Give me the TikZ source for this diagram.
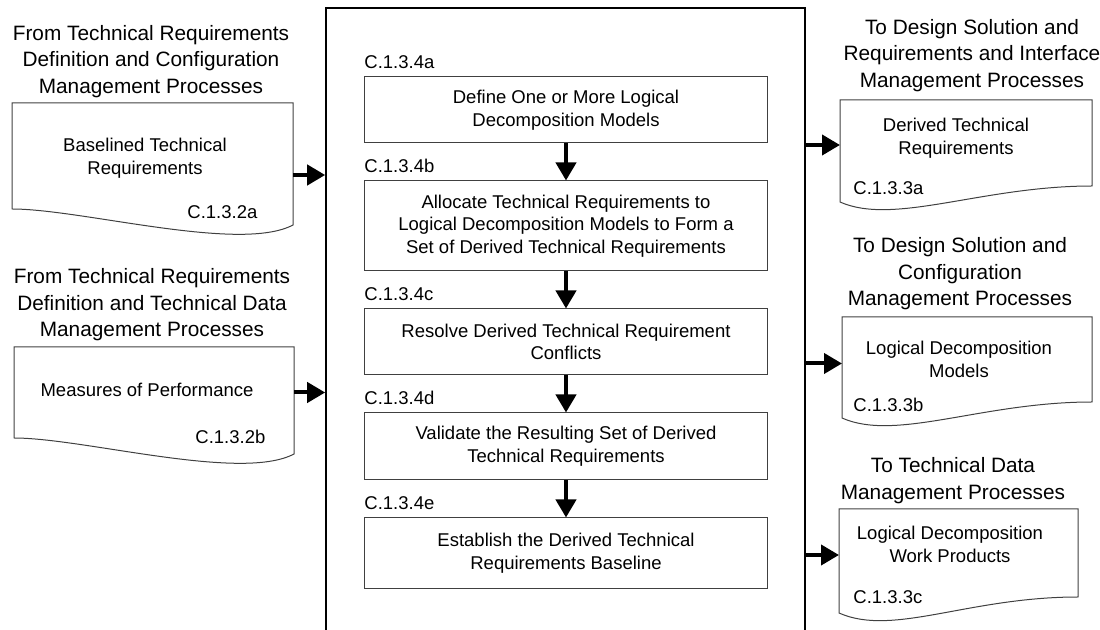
\documentclass[tikz,border=0pt]{standalone}
\usepackage{fontspec}
\setmainfont{Liberation Sans}
\usepackage{tikz}
\usetikzlibrary{arrows.meta,positioning,calc}

\tikzset{
  hdr/.style={align=center,inner sep=0pt,font=\fontsize{10.4}{13.3}\selectfont},
  stepbox/.style={draw=black!75,line width=0.5pt,minimum width=201.5pt,
    align=center,inner sep=2pt,font=\fontsize{9.25}{11.3}\selectfont},
  docbox/.style={inner sep=0pt,outer sep=0pt},
  doctext/.style={align=center,inner sep=0pt,font=\fontsize{9.25}{11.4}\selectfont},
  code/.style={anchor=base west,inner sep=0pt,font=\fontsize{9.25}{11.4}\selectfont},
  frame/.style={draw,line width=0.8pt,minimum width=239.5pt,minimum height=326pt,inner sep=0pt},
  flow/.style={line width=2pt,-{Triangle[length=9pt,width=10pt]}},
  docline/.style={draw=black!75,line width=0.5pt}
}
\newcommand{\docin}[1]{\draw[docline] (#1.south west) -- (#1.north west) -- (#1.north east)
  -- ([yshift=-8pt]#1.south east) .. controls +(-53,28) and +(70,0) .. (#1.south west) -- cycle;}
\newcommand{\docout}[1]{\draw[docline] (#1.south west) -- (#1.north west) -- (#1.north east)
  -- ([yshift=8pt]#1.south east) .. controls +(-110,0) and +(54,24) .. (#1.south west) -- cycle;}

\begin{document}
\begin{tikzpicture}[x=0.5pt,y=-0.5pt]
\useasboundingbox (0,0) rectangle (1100,630);
\node[frame] (main) at (565.5,334) {};

\node[hdr] (hA) at (151,61.5) {From Technical Requirements\\Definition and Configuration\\Management Processes};
\node[hdr] (hB) at (152,305) {From Technical Requirements\\Definition and Technical Data\\Management Processes};
\node[hdr] (hC) at (972,55.5) {To Design Solution and\\Requirements and Interface\\Management Processes};
\node[hdr] (hD) at (960,274) {To Design Solution and\\Configuration\\Management Processes};
\node[hdr] (hE) at (953,480.5) {To Technical Data\\Management Processes};

\node[docbox,minimum width=140.5pt,minimum height=53pt] (ldA) at (152.5,156) {};
\node[docbox,minimum width=140pt,minimum height=45.5pt] (ldB) at (154,392.5) {};
\node[docbox,minimum width=126pt,minimum height=51pt] (rdA) at (966,151) {};
\node[docbox,minimum width=125pt,minimum height=50.5pt] (rdB) at (967,367.5) {};
\node[docbox,minimum width=119.5pt,minimum height=52pt] (rdC) at (958.5,561) {};
\docin{ldA}
\docin{ldB}
\docout{rdA}
\docout{rdB}
\docout{rdC}

\node[doctext] (ltA) at (145,158) {Baselined Technical\\Requirements};
\node[doctext] (ltB) at (147,390) {Measures of Performance};
\node[doctext] (rtA) at (956,138.5) {Derived Technical\\Requirements};
\node[doctext] (rtB) at (959,359.5) {Logical Decomposition\\Models};
\node[doctext] (rtC) at (950,544) {Logical Decomposition\\Work Products};
\node[code] (cA) at (187,219) {C.1.3.2a};
\node[code] (cB) at (195,444) {C.1.3.2b};
\node[code] (cC) at (853,195) {C.1.3.3a};
\node[code] (cD) at (853,412) {C.1.3.3b};
\node[code] (cE) at (853,604) {C.1.3.3c};

\node[stepbox,minimum height=33pt] (sa) at (566,110) {Define One or More Logical\\Decomposition Models};
\node[stepbox,minimum height=45pt,below=18.5pt of sa] (sb) {Allocate Technical Requirements to\\Logical Decomposition Models to Form a\\Set of Derived Technical Requirements};
\node[stepbox,minimum height=33pt,below=18.5pt of sb] (sc) {Resolve Derived Technical Requirement\\Conflicts};
\node[stepbox,minimum height=33.5pt,below=18.5pt of sc] (sd) {Validate the Resulting Set of Derived\\Technical Requirements};
\node[stepbox,minimum height=35.5pt,below=18.5pt of sd] (se) {Establish the Derived Technical\\Requirements Baseline};
\node[code] (la) at ([yshift=4pt]sa.north west) {C.1.3.4a};
\node[code] (lb) at ([yshift=4pt]sb.north west) {C.1.3.4b};
\node[code] (lc) at ([yshift=4pt]sc.north west) {C.1.3.4c};
\node[code] (ld) at ([yshift=4pt]sd.north west) {C.1.3.4d};
\node[code] (le) at ([yshift=4pt]se.north west) {C.1.3.4e};

\path[flow] (sa) edge (sb) (sb) edge (sc) (sc) edge (sd) (sd) edge (se);

\coordinate (inA) at ([yshift=-9.5pt]ldA.east);
\coordinate (outA) at ([yshift=3pt]rdA.west);
\coordinate (outB) at ([yshift=2pt]rdB.west);
\coordinate (outC) at ([yshift=3pt]rdC.west);
\draw[flow] (inA) -- (inA -| main.west);
\draw[flow] (ldB.east) -- (ldB.east -| main.west);
\draw[flow] (outA -| main.east) -- (outA);
\draw[flow] (outB -| main.east) -- (outB);
\draw[flow] (outC -| main.east) -- (outC);
\end{tikzpicture}
\end{document}
